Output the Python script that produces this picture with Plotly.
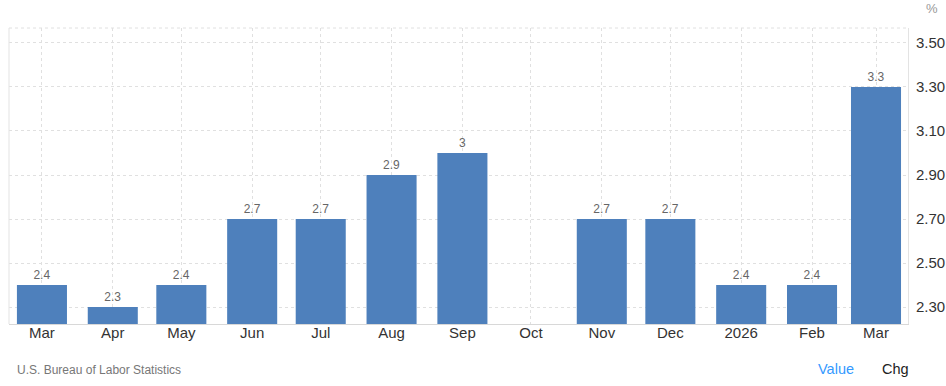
import plotly.graph_objects as go

months = ["2025-03-01", "2025-04-01", "2025-05-01", "2025-06-01", "2025-07-01",
          "2025-08-01", "2025-09-01", "2025-10-01", "2025-11-01", "2025-12-01",
          "2026-01-01", "2026-02-01", "2026-03-01"]
month_labels = ["Mar", "Apr", "May", "Jun", "Jul", "Aug", "Sep", "Oct", "Nov",
                "Dec", "2026", "Feb", "Mar"]
values = [2.4, 2.3, 2.4, 2.7, 2.7, 2.9, 3.0, None, 2.7, 2.7, 2.4, 2.4, 3.3]
y_ticks = [2.30, 2.50, 2.70, 2.90, 3.10, 3.30, 3.50]

labels = ["" if v is None else f"{v:g}" for v in values]

W, H = 946, 386
L, R, T, B = 9, 38, 28, 62
pw, ph = W - L - R, H - T - B


def px_x(px):
    return (px - L) / pw


def px_y(py):
    return (H - B - py) / ph


fig = go.Figure()
fig.add_trace(go.Bar(
    x=months, y=values, text=labels, textposition="outside",
    textfont=dict(size=12, color="#666666"),
    marker=dict(color="#4e80bc", line=dict(width=0)),
    width=21.9 * 86400000, cliponaxis=False, hoverinfo="skip",
))

fig.update_layout(
    width=W, height=H,
    margin=dict(l=L, r=R, t=T, b=B, pad=0, autoexpand=False),
    paper_bgcolor="white", plot_bgcolor="white",
    font=dict(family="Liberation Sans, Arial, sans-serif", color="#333333"),
    showlegend=False,
    xaxis=dict(
        type="date", range=["2025-02-14 14:00", "2026-03-15"],
        tickmode="array", tickvals=months, ticktext=month_labels,
        tickfont=dict(size=15, color="#333333"),
        showgrid=True, gridcolor="#e0e0e0", griddash="dot", gridwidth=1,
        showline=True, linecolor="#d8d8d8", linewidth=1,
        ticks="", zeroline=False, automargin=False, ticklabelstandoff=-5,
    ),
    yaxis=dict(
        side="right", range=[2.223, 3.568],
        tickmode="array", tickvals=y_ticks, tickformat=".2f",
        tickfont=dict(size=15, color="#333333"),
        showgrid=True, gridcolor="#e0e0e0", griddash="dot", gridwidth=1,
        showline=True, linecolor="#e3e3e3", linewidth=1,
        ticks="", zeroline=False, ticklabelstandoff=4, automargin=False,
    ),
    shapes=[
        dict(type="line", xref="paper", yref="paper", x0=0, x1=1, y0=1, y1=1,
             line=dict(color="#e0e0e0", width=1, dash="dot")),
        dict(type="line", xref="paper", yref="paper", x0=0, x1=0, y0=0, y1=1,
             line=dict(color="#e3e3e3", width=1)),
    ],
    annotations=[
        dict(text="%", xref="paper", yref="paper", x=px_x(932), y=px_y(8),
             xanchor="center", yanchor="middle", showarrow=False,
             font=dict(size=13, color="#999999")),
        dict(text="U.S. Bureau of Labor Statistics", xref="paper", yref="paper",
             x=px_x(15), y=px_y(370), xanchor="left", yanchor="middle",
             showarrow=False, font=dict(size=12, color="#777777")),
        dict(text="Value", xref="paper", yref="paper", x=px_x(816), y=px_y(369),
             xanchor="left", yanchor="middle", showarrow=False,
             font=dict(size=14.5, color="#3399ff")),
        dict(text="Chg", xref="paper", yref="paper", x=px_x(880), y=px_y(369),
             xanchor="left", yanchor="middle", showarrow=False,
             font=dict(size=14.5, color="#222222")),
    ],
)

fig.write_html("out.html")
